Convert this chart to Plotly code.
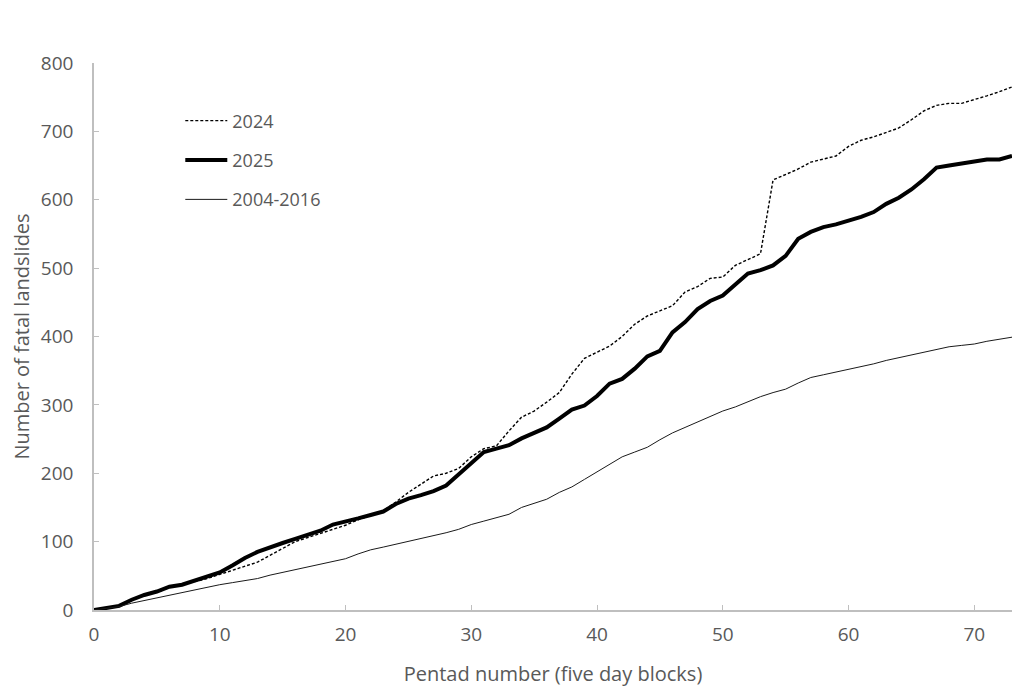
"""
Cumulative fatal landslides by pentad: 2024, 2025 and the 2004-2016 mean.
"""

import plotly.graph_objects as go

PENTADS = list(range(0, 74))

# Cumulative counts, read per pentad
LANDSLIDES_2024 = [
    0, 3, 6, 15, 22, 26, 33, 37, 41, 46,
    52, 58, 65, 70, 80, 90, 100, 106, 112, 118,
    124, 132, 138, 145, 158, 172, 184, 196, 200, 207,
    224, 236, 240, 262, 282, 291, 304, 318, 345, 368,
    377, 386, 400, 418, 430, 438, 445, 465, 473, 485,
    487, 504, 512, 521, 629, 637, 645, 655, 660, 664,
    678, 687, 692, 698, 705, 717, 730, 738, 741, 741,
    746, 752, 758, 765,
]
LANDSLIDES_2025 = [
    0, 3, 6, 15, 22, 27, 34, 37, 43, 48,
    55, 65, 76, 85, 92, 98, 104, 110, 116, 125,
    129, 134, 139, 144, 155, 163, 168, 174, 182, 198,
    215, 231, 236, 241, 251, 259, 267, 280, 293, 299,
    313, 331, 338, 353, 371, 379, 406, 421, 440, 452,
    460, 476, 492, 497, 504, 518, 543, 553, 560, 564,
    569, 575, 582, 594, 603, 615, 630, 647, 650, 653,
    656, 659, 659, 664,
]
LANDSLIDES_2004_2016 = [
    0, 2, 5, 10, 14, 17, 21, 25, 30, 34,
    37, 40, 43, 46, 51, 55, 59, 62, 66, 71,
    75, 82, 88, 92, 96, 100, 104, 108, 113, 118,
    125, 130, 135, 140, 150, 156, 162, 172, 180, 191,
    202, 212, 224, 231, 238, 249, 259, 267, 275, 284,
    291, 297, 305, 312, 318, 323, 332, 340, 344, 348,
    352, 355, 360, 365, 369, 373, 377, 381, 385, 387,
    389, 393, 396, 399,
]

SERIES = [
    ("2024", LANDSLIDES_2024, dict(color="black", width=1.4, dash="3px,2px")),
    ("2025", LANDSLIDES_2025, dict(color="black", width=4)),
    ("2004-2016", LANDSLIDES_2004_2016, dict(color="#1a1a1a", width=1)),
]

FONT = "Open Sans"
GREY_TEXT = "#595959"
AXIS_GREY = "#bfbfbf"

fig = go.Figure()
for name, values, line in SERIES:
    fig.add_trace(go.Scatter(
        x=PENTADS, y=values, name=name, mode="lines",
        line=line, legendgroup=name,
    ))

# the page adds an 8px body margin, so margins are trimmed to compensate
fig.update_layout(
    width=1024, height=688,
    paper_bgcolor="white", plot_bgcolor="white",
    font=dict(family=FONT, color=GREY_TEXT, size=17),
    margin=dict(l=86, r=20, t=55, b=86),
    showlegend=True,
    legend=dict(
        x=0.094, y=0.928, xanchor="left", yanchor="top",
        bgcolor="rgba(0,0,0,0)", font=dict(size=18, color=GREY_TEXT),
        tracegroupgap=13, itemwidth=42,
    ),
)
fig.update_xaxes(
    range=[0, 73], tickvals=[0, 10, 20, 30, 40, 50, 60, 70],
    showgrid=False, zeroline=False, automargin=False,
    showline=True, linecolor=AXIS_GREY, linewidth=1.5,
    ticks="inside", ticklen=5, tickcolor=AXIS_GREY,
    ticklabelstandoff=6,
    title=dict(text="Pentad number (five day blocks)", standoff=21),
    tickfont=dict(size=19),
)
fig.update_yaxes(
    range=[0, 800], dtick=100,
    showgrid=False, zeroline=False, automargin=False,
    showline=True, linecolor=AXIS_GREY, linewidth=1.5,
    ticks="inside", ticklen=5, tickcolor=AXIS_GREY,
    ticklabelstandoff=15,
    title=dict(text="Number of fatal landslides", standoff=8),
    tickfont=dict(size=19),
)

fig.write_html("out.html")
